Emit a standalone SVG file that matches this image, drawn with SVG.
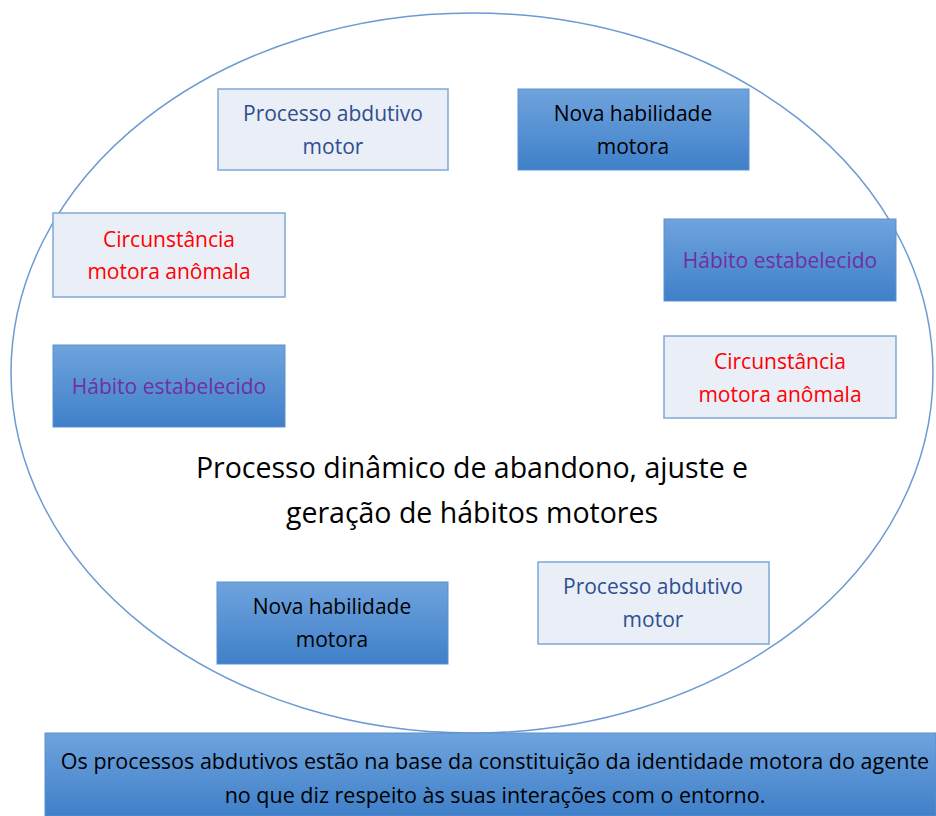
<svg xmlns="http://www.w3.org/2000/svg" width="936" height="816" viewBox="0 0 936 816">
<defs>
<linearGradient id="blue" x1="0" y1="0" x2="0" y2="1">
<stop offset="0" stop-color="#6fa3dd"/>
<stop offset="1" stop-color="#3f80c9"/>
</linearGradient>
<style>
.light{fill:#e9eef7;stroke:#7ea8d8;stroke-width:1.5}
.dark{fill:url(#blue);stroke:#5b8fd0;stroke-width:1}
text{font-family:"Open Sans","Liberation Sans",sans-serif;text-anchor:middle}
.t{font-size:21px}
.navy{fill:#2f4e8f}
.red{fill:#ff0000}
.purple{fill:#7030a0}
.blk{fill:#000}
</style>
</defs>
<rect width="936" height="816" fill="#fff"/>
<g id="connectors">
<ellipse cx="472" cy="373" rx="461" ry="360" fill="none" stroke="#6c9bd2" stroke-width="1.5"/>
</g>
<g id="n1"><rect class="light" x="218" y="89" width="230" height="81"/>
<text class="t navy" x="333" y="121">Processo abdutivo</text><text class="t navy" x="333" y="154">motor</text></g>
<g id="n2"><rect class="dark" x="518" y="89" width="231" height="81"/>
<text class="t blk" x="633" y="121">Nova habilidade</text><text class="t blk" x="633" y="154">motora</text></g>
<g id="n3"><rect class="light" x="53" y="213" width="232" height="84"/>
<text class="t red" x="169" y="247">Circunstância</text><text class="t red" x="169" y="279">motora anômala</text></g>
<g id="n4"><rect class="dark" x="53" y="345" width="232" height="82"/>
<text class="t purple" x="169" y="394">Hábito estabelecido</text></g>
<g id="n5"><rect class="dark" x="664" y="219" width="232" height="82"/>
<text class="t purple" x="780" y="268">Hábito estabelecido</text></g>
<g id="n6"><rect class="light" x="664" y="336" width="232" height="82"/>
<text class="t red" x="780" y="369">Circunstância</text><text class="t red" x="780" y="402">motora anômala</text></g>
<g id="n7"><rect class="dark" x="217" y="582" width="231" height="82"/>
<text class="t blk" x="332" y="614">Nova habilidade</text><text class="t blk" x="332" y="647">motora</text></g>
<g id="n8"><rect class="light" x="538" y="562" width="231" height="82"/>
<text class="t navy" x="653" y="594">Processo abdutivo</text><text class="t navy" x="653" y="627">motor</text></g>
<g id="center">
<text x="472" y="478" font-size="28.5" fill="#000">Processo dinâmico de abandono, ajuste e</text>
<text x="472" y="523" font-size="28.5" fill="#000">geração de hábitos motores</text>
</g>
<g id="banner"><rect class="dark" x="45" y="733" width="891" height="83"/>
<text x="495" y="769" font-size="21.5" fill="#000">Os processos abdutivos estão na base da constituição da identidade motora do agente</text>
<text x="495" y="803" font-size="21.5" fill="#000">no que diz respeito às suas interações com o entorno.</text></g>
</svg>
